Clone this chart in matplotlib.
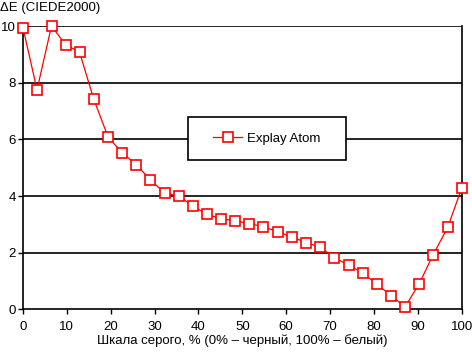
import matplotlib
matplotlib.use('Agg')
import matplotlib.pyplot as plt
from matplotlib.patches import Rectangle

plt.rcParams['font.family'] = ['Liberation Sans', 'DejaVu Sans']
plt.rcParams['font.size'] = 9.5

# gray level, % (32 steps)
gray = [0, 3.2, 6.5, 9.7, 12.9, 16.1, 19.4, 22.6, 25.8, 29.0, 32.3, 35.5,
        38.7, 41.9, 45.2, 48.4, 51.6, 54.8, 58.1, 61.3, 64.5, 67.7, 71.0,
        74.2, 77.4, 80.6, 83.9, 87.1, 90.3, 93.5, 96.8, 100]
# Delta E (CIEDE2000)
de = [9.94, 7.75, 10.0, 9.34, 9.08, 7.43, 6.08, 5.53, 5.10, 4.58, 4.10, 4.00,
      3.65, 3.36, 3.19, 3.13, 3.02, 2.92, 2.73, 2.56, 2.35, 2.20, 1.82,
      1.56, 1.29, 0.90, 0.48, 0.09, 0.90, 1.93, 2.89, 4.28]
series_name = 'Explay Atom'
xticks = [0, 10, 20, 30, 40, 50, 60, 70, 80, 90, 100]
yticks = [0, 2, 4, 6, 8, 10]

fig = plt.figure(figsize=(4.72, 3.52), dpi=100)
ax = fig.add_axes([0.0487, 0.1213, 0.9295, 0.8047])

for y in yticks[1:]:
    ax.axhline(y, color='black', lw=1.2, zorder=1)

ax.plot(gray, de, color='#ff0000', lw=0.9, marker='s', markersize=6.8,
        markerfacecolor='white', markeredgecolor='#ff0000',
        markeredgewidth=1.2, label=series_name, zorder=3, clip_on=False)

ax.set_xlim(0, 100)
ax.set_ylim(0, 10)
ax.set_xticks(xticks)
ax.set_yticks(yticks)
ax.tick_params(direction='out', length=3.5, width=1, color='black', pad=1.5)
ax.tick_params(axis='x', pad=5)
for s in ['left', 'bottom', 'right']:
    ax.spines[s].set_linewidth(1.2)
ax.spines['top'].set_visible(False)

fig.text(0.0, 0.995, '\u0394E (CIEDE2000)', ha='left', va='top')
ax.set_xlabel('Шкала серого, % (0% – черный, 100% – белый)', labelpad=1)

# legend box
bx0, bx1 = 0.376, 0.736
by0, by1 = 0.527, 0.679
ax.add_patch(Rectangle((bx0, by0), bx1 - bx0, by1 - by0, transform=ax.transAxes,
                       facecolor='white', edgecolor='black', lw=1.2, zorder=4))
ax.legend(loc='center', bbox_to_anchor=((bx0 + bx1) / 2, (by0 + by1) / 2),
          frameon=False, handlelength=2.2, handletextpad=0.35, borderpad=0
          ).set_zorder(5)

fig.savefig('out.png', dpi=100)
